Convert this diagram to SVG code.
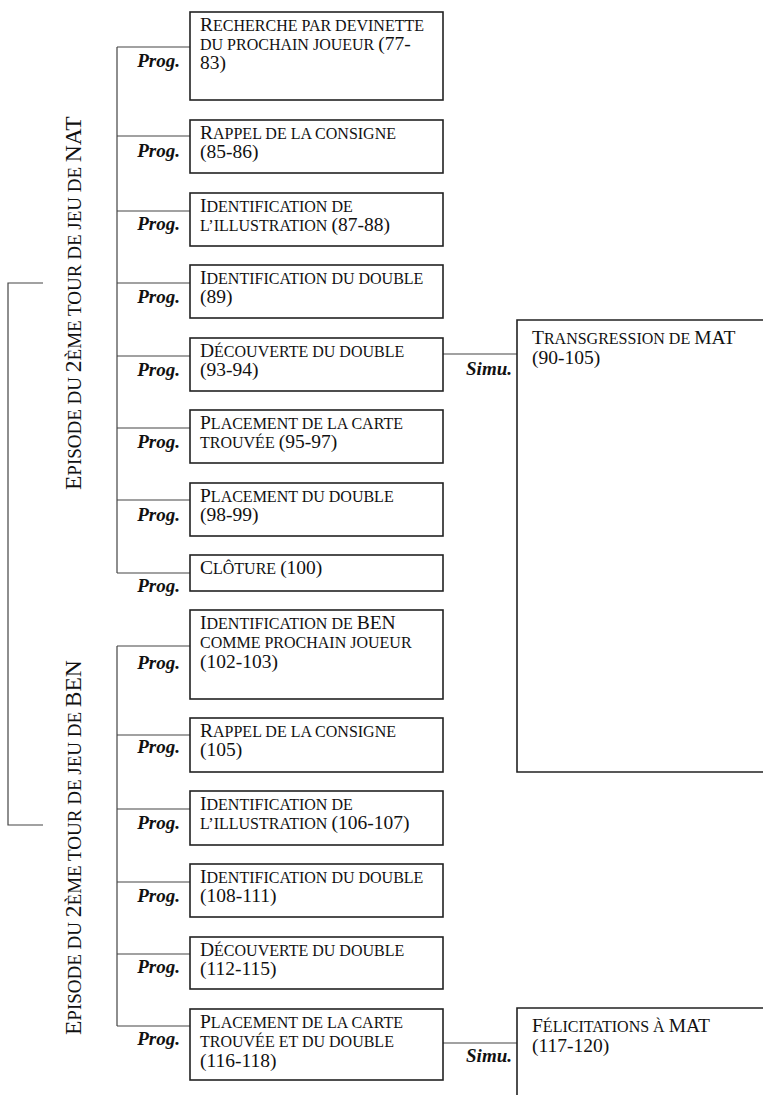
<svg xmlns="http://www.w3.org/2000/svg" width="763" height="1095" viewBox="0 0 763 1095">
<style>
.box{fill:#fff;stroke:#222;stroke-width:1.6}
.rbox{fill:none;stroke:#222;stroke-width:1.6}
.ln{fill:none;stroke:#444;stroke-width:1.2}
text{font-family:"Liberation Serif","Times New Roman",serif;fill:#111}
.t{font-size:19.5px}
.s{font-size:16px}
.lab{font-size:19px;font-weight:bold;font-style:italic;text-anchor:end}
.ep{font-size:23.5px}
.eps{font-size:19px}
</style>
<rect width="763" height="1095" fill="#fff"/>
<g id="connectors">
<path class="ln" d="M43 283H8V825H43"/>
<path class="ln" d="M117 47V573M117 47H190M117 136H190M117 211H190M117 283H190M117 356H190M117 428H190M117 500H190M117 573H190"/>
<path class="ln" d="M117 646V1026M117 646H190M117 735H190M117 809H190M117 882H190M117 954H190M117 1026H190"/>
<path class="ln" d="M443 354H517M443 1043H517"/>
<text class="lab" x="180" y="67">Prog.</text>
<text class="lab" x="180" y="157">Prog.</text>
<text class="lab" x="180" y="230">Prog.</text>
<text class="lab" x="180" y="303">Prog.</text>
<text class="lab" x="180" y="376">Prog.</text>
<text class="lab" x="180" y="448">Prog.</text>
<text class="lab" x="180" y="521">Prog.</text>
<text class="lab" x="180" y="592">Prog.</text>
<text class="lab" x="180" y="669">Prog.</text>
<text class="lab" x="180" y="753">Prog.</text>
<text class="lab" x="180" y="829">Prog.</text>
<text class="lab" x="180" y="902">Prog.</text>
<text class="lab" x="180" y="973">Prog.</text>
<text class="lab" x="180" y="1045">Prog.</text>
<text class="lab" x="512" y="375">Simu.</text>
<text class="lab" x="512" y="1062">Simu.</text>
</g>
<g id="ep-nat">
<text transform="translate(81 490) rotate(-90)"><tspan class="ep">E</tspan><tspan class="eps">PISODE DU </tspan><tspan class="ep">2</tspan><tspan class="eps">ÈME TOUR DE JEU DE </tspan><tspan class="ep">NAT</tspan></text>
</g>
<g id="ep-ben">
<text transform="translate(81 1035) rotate(-90)"><tspan class="ep">E</tspan><tspan class="eps">PISODE DU </tspan><tspan class="ep">2</tspan><tspan class="eps">ÈME TOUR DE JEU DE </tspan><tspan class="ep">BEN</tspan></text>
</g>
<g id="n1"><rect class="box" x="190" y="12" width="253" height="88"/>
<text x="200" y="31"><tspan class="t">R</tspan><tspan class="s">ECHERCHE PAR DEVINETTE</tspan></text>
<text x="200" y="50"><tspan class="s">DU PROCHAIN JOUEUR </tspan><tspan class="t">(77-</tspan></text>
<text class="t" x="200" y="69">83)</text></g>
<g id="n2"><rect class="box" x="190" y="120" width="253" height="53"/>
<text x="200" y="138.5"><tspan class="t">R</tspan><tspan class="s">APPEL DE LA CONSIGNE</tspan></text>
<text class="t" x="200" y="158">(85-86)</text></g>
<g id="n3"><rect class="box" x="190" y="193" width="253" height="53"/>
<text x="200" y="211.5"><tspan class="t">I</tspan><tspan class="s">DENTIFICATION DE</tspan></text>
<text x="200" y="231"><tspan class="s">L’ILLUSTRATION </tspan><tspan class="t">(87-88)</tspan></text></g>
<g id="n4"><rect class="box" x="190" y="265" width="253" height="53"/>
<text x="200" y="283.5"><tspan class="t">I</tspan><tspan class="s">DENTIFICATION DU DOUBLE</tspan></text>
<text class="t" x="200" y="303">(89)</text></g>
<g id="n5"><rect class="box" x="190" y="338" width="253" height="53"/>
<text x="200" y="356.5"><tspan class="t">D</tspan><tspan class="s">ÉCOUVERTE DU DOUBLE</tspan></text>
<text class="t" x="200" y="376">(93-94)</text></g>
<g id="n6"><rect class="box" x="190" y="410" width="253" height="53"/>
<text x="200" y="428.5"><tspan class="t">P</tspan><tspan class="s">LACEMENT DE LA CARTE</tspan></text>
<text x="200" y="448"><tspan class="s">TROUVÉE </tspan><tspan class="t">(95-97)</tspan></text></g>
<g id="n7"><rect class="box" x="190" y="483" width="253" height="53"/>
<text x="200" y="501.5"><tspan class="t">P</tspan><tspan class="s">LACEMENT DU DOUBLE</tspan></text>
<text class="t" x="200" y="521">(98-99)</text></g>
<g id="n8"><rect class="box" x="190" y="555" width="253" height="36"/>
<text x="200" y="574"><tspan class="t">C</tspan><tspan class="s">LÔTURE </tspan><tspan class="t">(100)</tspan></text></g>
<g id="n9"><rect class="box" x="190" y="610" width="253" height="89"/>
<text x="200" y="628.5"><tspan class="t">I</tspan><tspan class="s">DENTIFICATION DE </tspan><tspan class="t">BEN</tspan></text>
<text class="s" x="200" y="648">COMME PROCHAIN JOUEUR</text>
<text class="t" x="200" y="667.5">(102-103)</text></g>
<g id="n10"><rect class="box" x="190" y="718" width="253" height="54"/>
<text x="200" y="736.5"><tspan class="t">R</tspan><tspan class="s">APPEL DE LA CONSIGNE</tspan></text>
<text class="t" x="200" y="756">(105)</text></g>
<g id="n11"><rect class="box" x="190" y="791" width="253" height="54"/>
<text x="200" y="809.5"><tspan class="t">I</tspan><tspan class="s">DENTIFICATION DE</tspan></text>
<text x="200" y="829"><tspan class="s">L’ILLUSTRATION </tspan><tspan class="t">(106-107)</tspan></text></g>
<g id="n12"><rect class="box" x="190" y="864" width="253" height="53"/>
<text x="200" y="882.5"><tspan class="t">I</tspan><tspan class="s">DENTIFICATION DU DOUBLE</tspan></text>
<text class="t" x="200" y="902">(108-111)</text></g>
<g id="n13"><rect class="box" x="190" y="937" width="253" height="52"/>
<text x="200" y="955.5"><tspan class="t">D</tspan><tspan class="s">ÉCOUVERTE DU DOUBLE</tspan></text>
<text class="t" x="200" y="975">(112-115)</text></g>
<g id="n14"><rect class="box" x="190" y="1009" width="253" height="71"/>
<text x="200" y="1027.5"><tspan class="t">P</tspan><tspan class="s">LACEMENT DE LA CARTE</tspan></text>
<text class="s" x="200" y="1047">TROUVÉE ET DU DOUBLE</text>
<text class="t" x="200" y="1066.5">(116-118)</text></g>
<g id="r1"><path class="rbox" d="M770 320H517V772H770"/>
<text x="532" y="344"><tspan class="t">T</tspan><tspan class="s">RANSGRESSION DE </tspan><tspan class="t">MAT</tspan></text>
<text class="t" x="532" y="363.5">(90-105)</text></g>
<g id="r2"><path class="rbox" d="M770 1008H517V1100"/>
<text x="532" y="1032"><tspan class="t">F</tspan><tspan class="s">ÉLICITATIONS À </tspan><tspan class="t">MAT</tspan></text>
<text class="t" x="532" y="1052">(117-120)</text></g>
</svg>
